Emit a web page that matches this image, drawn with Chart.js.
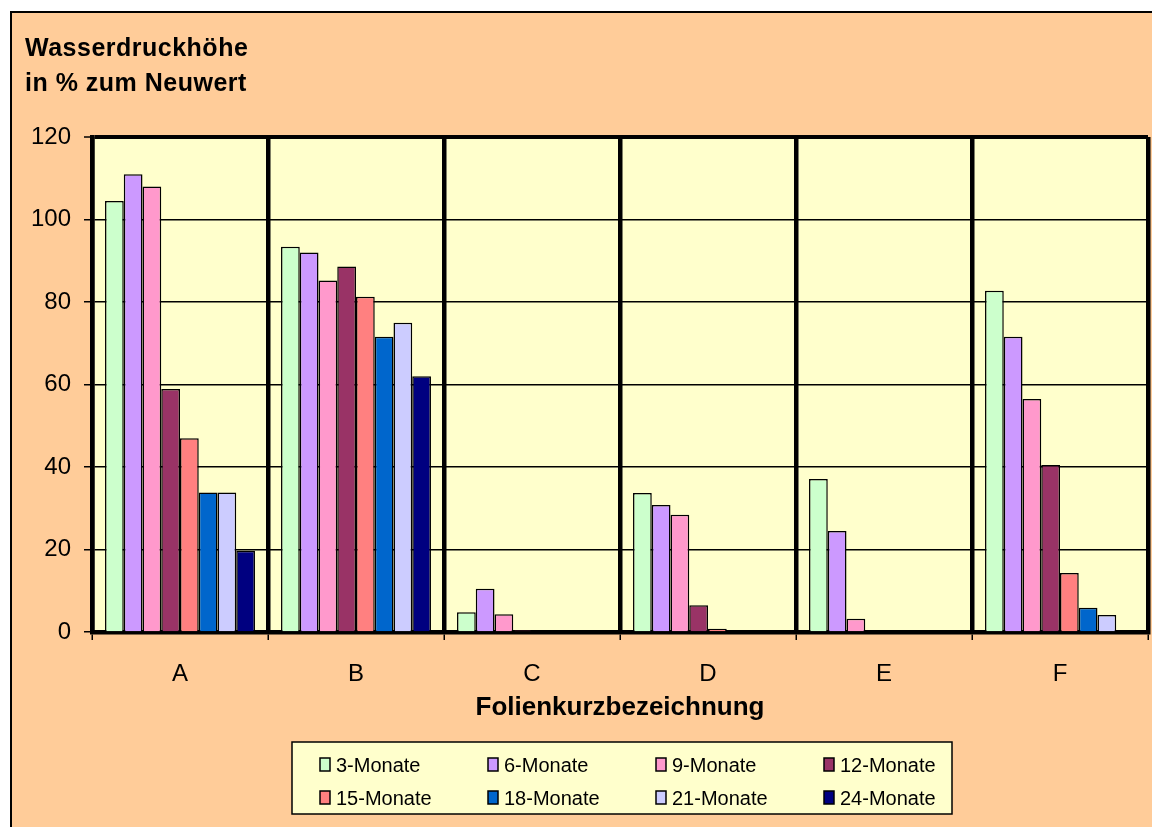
<!DOCTYPE html>
<html>
<head>
<meta charset="utf-8">
<title>Wasserdruckhöhe</title>
<script src="https://cdn.jsdelivr.net/npm/chart.js@4/dist/chart.umd.min.js"></script>
<style>
  html, body { margin: 0; padding: 0; background: #fff; }
  canvas { display: block; }
</style>
</head>
<body>
<canvas id="chart" width="1152" height="827"></canvas>
<script>
// Data
const categories = ['A', 'B', 'C', 'D', 'E', 'F'];
const yTicks = [0, 20, 40, 60, 80, 100, 120];
const seriesNames = ['3-Monate', '6-Monate', '9-Monate', '12-Monate', '15-Monate', '18-Monate', '21-Monate', '24-Monate'];
const months3 = [104.5, 93.4, 4.8, 33.7, 37.1, 82.7];
const months6 = [111, 92, 10.5, 30.8, 24.5, 71.6];
const months9 = [108, 85.2, 4.3, 28.4, 3.2, 56.5];
const months12 = [58.9, 88.6, 0.4, 6.5, 0, 40.5];
const months15 = [47, 81.3, 0, 0.8, 0, 14.3];
const months18 = [33.8, 71.6, 0, 0, 0, 5.9];
const months21 = [33.8, 75, 0, 0, 0, 4.1];
const months24 = [19.7, 62, 0, 0, 0, 0];

const seriesValues = [months3, months6, months9, months12, months15, months18, months21, months24];
const seriesColors = ['#CCFFCC', '#CC99FF', '#FF99CC', '#993366', '#FF8080', '#0066CC', '#CCCCFF', '#000080'];

const FONT = '"Liberation Sans", Arial, sans-serif';

// Background, outer frame and plot area fill
const backgroundPlugin = {
    id: 'background',
    beforeDraw(chart) {
        const ctx = chart.ctx;
        const area = chart.chartArea;
        ctx.save();
        ctx.fillStyle = '#ffffff';
        ctx.fillRect(0, 0, chart.width, chart.height);
        ctx.fillStyle = '#FFCC99';
        ctx.fillRect(11, 12, chart.width, chart.height);
        ctx.strokeStyle = '#000';
        ctx.lineWidth = 2;
        ctx.strokeRect(11, 12, chart.width + 10, chart.height + 10);
        ctx.fillStyle = '#FFFFCC';
        ctx.fillRect(area.left, area.top, area.right - area.left, area.bottom - area.top);
        ctx.restore();
    }
};

// Axis title top-left and the boxed legend at the bottom
const textPlugin = {
    id: 'texts',
    afterDraw(chart) {
        const ctx = chart.ctx;
        ctx.save();
        ctx.fillStyle = '#000';
        ctx.font = 'bold 25px ' + FONT;
        ctx.textBaseline = 'alphabetic';
        ctx.textAlign = 'left';
        if ('letterSpacing' in ctx) ctx.letterSpacing = '0.5px';
        ctx.fillText('Wasserdruckhöhe', 25, 56);
        ctx.fillText('in % zum Neuwert', 25, 91);
        if ('letterSpacing' in ctx) ctx.letterSpacing = '0px';

        // legend box
        ctx.fillStyle = '#FFFFCC';
        ctx.fillRect(292, 742, 660, 72);
        ctx.strokeStyle = '#000';
        ctx.lineWidth = 1.5;
        ctx.strokeRect(292, 742, 660, 72);

        ctx.font = '20px ' + FONT;
        ctx.textBaseline = 'middle';
        chart.data.datasets.forEach(function(ds, i) {
            const col = i % 4;
            const row = Math.floor(i / 4);
            const x = 320 + col * 168;
            const y = 765 + row * 33;
            ctx.fillStyle = ds.backgroundColor;
            ctx.fillRect(x, y - 7, 10, 13);
            ctx.strokeStyle = '#000';
            ctx.lineWidth = 1.5;
            ctx.strokeRect(x, y - 7, 10, 13);
            ctx.fillStyle = '#000';
            ctx.fillText(ds.label, x + 16, y + 1);
        });
        ctx.restore();
    }
};

const datasets = seriesNames.map(function(name, i) {
    return {
        label: name,
        data: seriesValues[i],
        backgroundColor: seriesColors[i],
        borderColor: '#000',
        borderWidth: 1.5,
        barPercentage: 1,
        categoryPercentage: 0.852
    };
});

new Chart(document.getElementById('chart'), {
    type: 'bar',
    data: { labels: categories, datasets: datasets },
    options: {
        responsive: false,
        animation: false,
        layout: { padding: { left: 0, top: 137, right: 4, bottom: 0 } },
        plugins: {
            legend: { display: false },
            tooltip: { enabled: false },
            title: { display: false }
        },
        scales: {
            x: {
                grid: {
                    offset: true,
                    color: '#000',
                    lineWidth: 4.5,
                    drawTicks: true,
                    tickLength: 8,
                    tickWidth: 1.5,
                    tickColor: '#000'
                },
                border: { color: '#000', width: 4.5 },
                ticks: {
                    color: '#000',
                    font: { family: FONT, size: 24 },
                    padding: 20
                },
                title: {
                    display: true,
                    text: 'Folienkurzbezeichnung',
                    color: '#000',
                    font: { family: FONT, size: 26, weight: 'bold' },
                    padding: { top: 0, bottom: 104 }
                },
                afterFit(scale) { scale.height = 195; }
            },
            y: {
                min: 0,
                max: 120,
                afterBuildTicks(scale) {
                    scale.ticks = yTicks.map(function(v) { return { value: v }; });
                },
                grid: {
                    color: '#000',
                    lineWidth(ctx) { return ctx.tick && ctx.tick.value === 120 ? 4 : 1.5; },
                    drawTicks: true,
                    tickLength: 8,
                    tickWidth: 1.5,
                    tickColor: '#000'
                },
                border: { color: '#000', width: 4.5 },
                ticks: {
                    color: '#000',
                    font: { family: FONT, size: 24 },
                    padding: 13
                },
                afterFit(scale) { scale.width = 92; }
            }
        }
    },
    plugins: [backgroundPlugin, textPlugin]
});
</script>
</body>
</html>
